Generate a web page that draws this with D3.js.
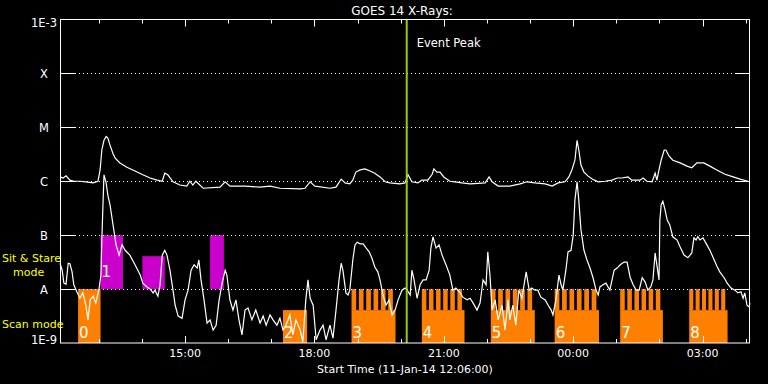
<!DOCTYPE html>
<html>
<meta charset="utf-8">
<style>
  body { margin: 0; background: #000; }
  svg { display: block; background: #000; }
  text { font-family: "DejaVu Sans", sans-serif; fill: #fff; }
</style>
<body>
<div id="chart"></div>
<script src="https://d3js.org/d3.v7.min.js"></script>
<script>
// ---- data (time = hours after 11-Jan-14 12:06 UT, flux = log10 W/m^2) ----
const startTime = Date.UTC(2014, 0, 11, 12, 6, 0);
const spanHours = 16;
const eventPeakHour = 8.04;

const levelValues = [1e-9, 1e-8, 1e-7, 1e-6, 1e-5, 1e-4, 1e-3];
const levelLabels = ["1E-9", "A", "B", "C", "M", "X", "1E-3"];

// long channel (1-8 A)
const longChannel = [
  [0.00,-5.92],[0.07,-5.94],[0.14,-5.90],[0.23,-5.98],[0.32,-6.00],[0.46,-6.00],[0.60,-6.01],[0.77,-6.03],
  [0.88,-6.00],[0.93,-5.79],[0.97,-5.42],[1.02,-5.24],[1.07,-5.17],[1.11,-5.20],[1.16,-5.33],[1.23,-5.49],
  [1.28,-5.57],[1.39,-5.66],[1.55,-5.74],[1.74,-5.81],[1.92,-5.88],[2.09,-5.94],[2.25,-5.98],[2.37,-6.00],
  [2.43,-5.85],[2.50,-5.88],[2.62,-6.01],[2.78,-6.07],[2.94,-6.09],[3.01,-6.00],[3.08,-6.07],[3.15,-6.00],
  [3.32,-6.13],[3.71,-6.11],[3.83,-6.01],[3.94,-6.09],[4.29,-6.09],[4.64,-6.11],[4.87,-6.09],[5.10,-6.13],
  [5.57,-6.14],[5.68,-6.13],[5.80,-6.01],[5.91,-6.09],[6.26,-6.13],[6.40,-6.11],[6.52,-5.96],[6.61,-6.03],
  [6.72,-6.05],[6.79,-5.98],[6.86,-5.83],[6.96,-5.79],[7.07,-5.77],[7.19,-5.81],[7.30,-5.85],[7.42,-5.92],
  [7.54,-6.01],[7.65,-6.03],[7.88,-6.05],[8.00,-6.03],[8.07,-5.88],[8.16,-6.01],[8.30,-6.03],[8.39,-5.98],
  [8.53,-5.98],[8.63,-5.87],[8.67,-5.77],[8.74,-5.83],[8.81,-5.83],[8.90,-5.92],[9.04,-6.00],[9.16,-6.01],
  [9.32,-6.03],[9.51,-6.05],[9.86,-6.03],[9.95,-5.92],[10.02,-6.01],[10.16,-6.09],[10.32,-6.09],[10.43,-6.09],
  [10.67,-6.05],[10.83,-6.01],[11.01,-6.03],[11.25,-6.05],[11.41,-6.09],[11.55,-6.03],[11.71,-6.01],[11.80,-5.92],
  [11.87,-5.79],[11.94,-5.61],[11.99,-5.24],[12.03,-5.42],[12.08,-5.70],[12.15,-5.83],[12.24,-5.90],[12.34,-5.96],
  [12.48,-6.01],[12.64,-6.00],[12.80,-5.98],[12.92,-5.94],[13.03,-5.94],[13.17,-5.92],[13.26,-5.98],[13.45,-5.98],
  [13.52,-5.94],[13.61,-6.00],[13.73,-6.01],[13.80,-5.85],[13.84,-5.98],[13.89,-5.79],[13.94,-5.61],[14.01,-5.42],
  [14.05,-5.42],[14.12,-5.53],[14.21,-5.61],[14.38,-5.66],[14.54,-5.72],[14.65,-5.75],[14.77,-5.66],[14.93,-5.66],
  [15.07,-5.72],[15.23,-5.79],[15.42,-5.87],[15.61,-5.92],[15.77,-5.96],[15.95,-6.00]
];

// short channel (0.5-4 A)
const shortChannel = [
  [0.00,-7.52],[0.05,-7.65],[0.09,-7.89],[0.14,-7.91],[0.19,-7.52],[0.23,-7.53],[0.28,-7.68],[0.32,-7.92],
  [0.39,-8.05],[0.46,-8.17],[0.53,-8.07],[0.60,-8.30],[0.65,-8.57],[0.70,-8.20],[0.77,-8.13],[0.83,-8.26],
  [0.90,-8.02],[0.95,-7.74],[0.97,-7.09],[1.00,-6.35],[1.02,-5.88],[1.07,-6.03],[1.11,-6.26],[1.16,-6.44],
  [1.23,-6.81],[1.30,-7.18],[1.37,-7.37],[1.44,-7.18],[1.51,-7.28],[1.62,-7.37],[1.74,-7.55],[1.86,-7.74],
  [1.92,-7.89],[2.02,-7.96],[2.09,-8.00],[2.16,-8.07],[2.20,-8.02],[2.27,-8.13],[2.32,-7.92],[2.37,-7.37],
  [2.43,-7.28],[2.48,-7.37],[2.55,-7.65],[2.62,-8.02],[2.67,-8.30],[2.74,-8.50],[2.83,-8.54],[2.90,-8.20],
  [2.97,-8.02],[3.04,-7.65],[3.11,-7.55],[3.18,-7.61],[3.22,-7.46],[3.27,-7.83],[3.34,-8.20],[3.41,-8.63],
  [3.48,-8.57],[3.55,-8.76],[3.62,-8.67],[3.69,-8.20],[3.76,-7.89],[3.83,-7.65],[3.87,-7.74],[3.94,-8.20],
  [4.01,-8.39],[4.08,-8.20],[4.15,-8.57],[4.22,-8.85],[4.29,-8.39],[4.36,-8.35],[4.45,-8.57],[4.54,-8.39],
  [4.64,-8.63],[4.71,-8.50],[4.78,-8.67],[4.87,-8.48],[4.94,-8.57],[5.03,-8.67],[5.10,-8.54],[5.17,-8.76],
  [5.24,-8.67],[5.33,-8.48],[5.40,-8.85],[5.47,-8.57],[5.57,-8.76],[5.63,-8.98],[5.70,-8.20],[5.75,-7.83],
  [5.80,-8.17],[5.87,-8.30],[5.94,-8.94],[6.03,-8.76],[6.10,-8.67],[6.17,-8.94],[6.26,-8.67],[6.33,-8.91],
  [6.40,-8.39],[6.47,-7.83],[6.52,-7.52],[6.56,-7.65],[6.63,-8.07],[6.68,-8.11],[6.72,-8.02],[6.79,-7.46],
  [6.84,-7.18],[6.89,-7.13],[6.96,-7.16],[7.03,-7.16],[7.10,-7.24],[7.17,-7.31],[7.23,-7.42],[7.30,-7.59],
  [7.37,-7.68],[7.42,-7.83],[7.49,-8.11],[7.56,-8.30],[7.63,-8.20],[7.70,-8.48],[7.77,-8.39],[7.84,-8.20],
  [7.93,-8.02],[8.00,-7.98],[8.05,-8.02],[8.12,-8.11],[8.16,-7.65],[8.21,-7.83],[8.28,-8.17],[8.35,-7.92],
  [8.42,-7.83],[8.49,-7.83],[8.56,-7.65],[8.60,-7.24],[8.65,-7.03],[8.72,-7.24],[8.79,-7.18],[8.86,-7.37],
  [8.95,-7.55],[9.04,-7.74],[9.11,-8.02],[9.18,-7.98],[9.28,-8.07],[9.34,-8.15],[9.44,-8.20],[9.51,-8.17],
  [9.58,-8.26],[9.67,-8.39],[9.74,-8.26],[9.81,-7.83],[9.88,-7.92],[9.92,-7.31],[9.97,-7.74],[10.02,-8.39],
  [10.09,-8.20],[10.16,-8.57],[10.25,-8.30],[10.32,-8.76],[10.39,-8.20],[10.43,-8.57],[10.50,-8.30],[10.57,-8.67],
  [10.64,-8.02],[10.71,-8.17],[10.81,-7.68],[10.88,-8.02],[10.94,-7.98],[11.01,-8.02],[11.08,-8.02],[11.15,-8.15],
  [11.25,-8.20],[11.32,-8.30],[11.39,-8.39],[11.43,-8.48],[11.50,-8.20],[11.57,-7.74],[11.62,-7.92],[11.66,-8.02],
  [11.73,-7.65],[11.78,-7.31],[11.85,-7.28],[11.90,-7.00],[11.94,-6.35],[11.99,-6.01],[12.03,-6.35],[12.08,-6.90],
  [12.15,-7.28],[12.22,-7.46],[12.29,-7.61],[12.36,-7.79],[12.43,-8.02],[12.48,-8.11],[12.52,-7.96],[12.59,-7.92],
  [12.66,-7.89],[12.75,-8.02],[12.85,-7.65],[12.92,-7.61],[12.99,-7.55],[13.08,-7.50],[13.15,-7.50],[13.22,-7.78],
  [13.29,-7.92],[13.36,-8.02],[13.43,-8.02],[13.50,-7.79],[13.57,-7.87],[13.63,-8.02],[13.70,-7.96],[13.75,-7.83],
  [13.80,-7.33],[13.84,-7.55],[13.89,-7.83],[13.91,-6.72],[13.94,-6.44],[13.98,-6.37],[14.03,-6.53],[14.08,-6.72],
  [14.14,-6.81],[14.21,-7.03],[14.31,-7.09],[14.38,-7.22],[14.47,-7.37],[14.56,-7.42],[14.65,-7.33],[14.70,-7.05],
  [14.75,-7.09],[14.79,-7.03],[14.84,-7.09],[14.91,-7.05],[15.00,-7.18],[15.07,-7.28],[15.17,-7.46],[15.23,-7.57],
  [15.30,-7.68],[15.40,-7.79],[15.47,-7.89],[15.56,-7.98],[15.65,-8.02],[15.72,-8.07],[15.79,-8.05],[15.84,-8.17],
  [15.88,-8.07],[15.93,-8.30],[15.98,-8.33],[16.00,-8.26]
];

// observing mode blocks: start/end in hours, kind = full | low | comb
const scanBlocks = [
  {label: "0", start: 0.42, end: 0.94, kind: "full"},
  {label: "2", start: 5.17, end: 5.73, kind: "low"},
  {label: "3", start: 6.76, end: 7.78, kind: "comb"},
  {label: "4", start: 8.39, end: 9.38, kind: "comb"},
  {label: "5", start: 9.99, end: 11.01, kind: "comb"},
  {label: "6", start: 11.47, end: 12.50, kind: "comb"},
  {label: "7", start: 12.99, end: 13.98, kind: "comb"},
  {label: "8", start: 14.59, end: 15.48, kind: "comb"}
];
const stareBlocks = [
  {label: "1", start: 0.94, end: 1.46, kind: "full"},
  {label: "", start: 1.91, end: 2.43, kind: "low"},
  {label: "", start: 3.48, end: 3.80, kind: "full"}
];

// ---- layout ----
const W = 768, H = 384;
const margin = {top: 19.5, right: 18, bottom: 41, left: 60};
const toDate = h => new Date(startTime + h * 3600e3);

const svg = d3.select("#chart").append("svg").attr("width", W).attr("height", H);

const x = d3.scaleUtc()
  .domain([toDate(0), toDate(spanHours)])
  .range([margin.left, W - margin.right]);
const y = d3.scaleLog()
  .domain([1e-9, 1e-3])
  .range([H - margin.bottom, margin.top]);

const orange = "#ff8000", magenta = "#cc00cc";
const lowFrac = 0.61, teeth = 6;

function drawBlocks(blocks, lo, hi, color, labelBase) {
  const g = svg.append("g");
  blocks.forEach(b => {
    const x0 = x(toDate(b.start)), x1 = x(toDate(b.end));
    const yLo = y(lo), yHi = y(hi);
    const yMid = yLo - (yLo - yHi) * lowFrac;
    const top = b.kind == "full" ? yHi : yMid;
    g.append("rect").attr("x", x0).attr("y", top)
      .attr("width", x1 - x0).attr("height", yLo - top).attr("fill", color);
    if (b.kind == "comb") {
      const p = (x1 - x0) / teeth;
      for (let i = 0; i < teeth; i++) {
        g.append("rect").attr("x", x0 + i * p).attr("y", yHi)
          .attr("width", p * 0.64).attr("height", yMid - yHi).attr("fill", color);
      }
    }
    if (b.label) {
      g.append("text").attr("x", x0 + 1).attr("y", labelBase)
        .attr("font-size", 15).style("fill", "#fff").text(b.label);
    }
  });
}

drawBlocks(scanBlocks, 1e-9, 1e-8, orange, y(1e-9) - 5);
drawBlocks(stareBlocks, 1e-8, 1e-7, magenta, y(1e-8) - 12);

// level grid lines: dotted, with solid stubs at each end
const gridLevels = levelValues.slice(1, -1);
const grid = svg.append("g");
gridLevels.forEach(v => {
  const yy = Math.round(y(v)) + 0.5;
  grid.append("line").attr("x1", margin.left + 15).attr("x2", W - margin.right - 15)
    .attr("y1", yy).attr("y2", yy)
    .attr("stroke", "#fff").attr("stroke-width", 1).attr("stroke-dasharray", "1,3");
  grid.append("line").attr("x1", margin.left).attr("x2", margin.left + 15)
    .attr("y1", yy).attr("y2", yy).attr("stroke", "#fff");
  grid.append("line").attr("x1", W - margin.right - 15).attr("x2", W - margin.right)
    .attr("y1", yy).attr("y2", yy).attr("stroke", "#fff");
});

// curves
const line = d3.line()
  .x(d => x(toDate(d[0])))
  .y(d => y(Math.pow(10, d[1])));

svg.append("path").datum(longChannel).attr("d", line)
  .attr("fill", "none").attr("stroke", "#fff").attr("stroke-width", 1.2);
svg.append("path").datum(shortChannel).attr("d", line)
  .attr("fill", "none").attr("stroke", "#fff").attr("stroke-width", 1.2);

// event peak
const xe = x(toDate(eventPeakHour));
svg.append("line").attr("x1", xe).attr("x2", xe)
  .attr("y1", margin.top).attr("y2", H - margin.bottom)
  .attr("stroke", "#99cc00").attr("stroke-width", 2);
svg.append("text").attr("x", xe + 10).attr("y", 47)
  .attr("font-size", 11.5).text("Event Peak");

// frame
svg.append("rect").attr("x", margin.left + 0.5).attr("y", margin.top)
  .attr("width", W - margin.left - margin.right - 1)
  .attr("height", H - margin.top - margin.bottom)
  .attr("fill", "none").attr("stroke", "#fff").attr("stroke-width", 1);

// time ticks (top and bottom)
const hours = x.ticks(d3.utcHour.every(1));
const isMajor = d => d.getUTCHours() % 3 == 0;
const ticks = svg.append("g").attr("stroke", "#fff");
hours.forEach(d => {
  const xx = Math.round(x(d)) + 0.5, len = isMajor(d) ? 7 : 4;
  ticks.append("line").attr("x1", xx).attr("x2", xx)
    .attr("y1", H - margin.bottom).attr("y2", H - margin.bottom - len);
  ticks.append("line").attr("x1", xx).attr("x2", xx)
    .attr("y1", margin.top).attr("y2", margin.top + len);
});
svg.append("g").selectAll("text")
  .data(hours.filter(isMajor))
  .join("text")
  .attr("x", d => x(d)).attr("y", 357)
  .attr("text-anchor", "middle").attr("font-size", 11)
  .text(d3.utcFormat("%H:%M"));

svg.append("text").attr("x", (margin.left + W - margin.right) / 2).attr("y", 373)
  .attr("text-anchor", "middle").attr("font-size", 11)
  .text("Start Time (11-Jan-14 12:06:00)");

// level labels
svg.append("g").selectAll("text")
  .data(levelValues)
  .join("text")
  .attr("x", (d, i) => (i == 0 || i == 6) ? 57 : 44)
  .attr("y", (d, i) => i == 6 ? 27 : (i == 0 ? 344 : y(d) + 4.5))
  .attr("text-anchor", (d, i) => (i == 0 || i == 6) ? "end" : "middle")
  .attr("font-size", 11.5)
  .text((d, i) => levelLabels[i]);

// mode captions
const yellow = "#ffff00";
svg.append("text").attr("x", 2).attr("y", 262).attr("font-size", 11).style("fill", yellow).text("Sit & Stare");
svg.append("text").attr("x", 13).attr("y", 276).attr("font-size", 11).style("fill", yellow).text("mode");
svg.append("text").attr("x", 2).attr("y", 328).attr("font-size", 11).style("fill", yellow).text("Scan mode");

// title
svg.append("text").attr("x", 402).attr("y", 15).attr("text-anchor", "middle")
  .attr("font-size", 12).text("GOES 14 X-Rays:");
</script>
</body>
</html>
